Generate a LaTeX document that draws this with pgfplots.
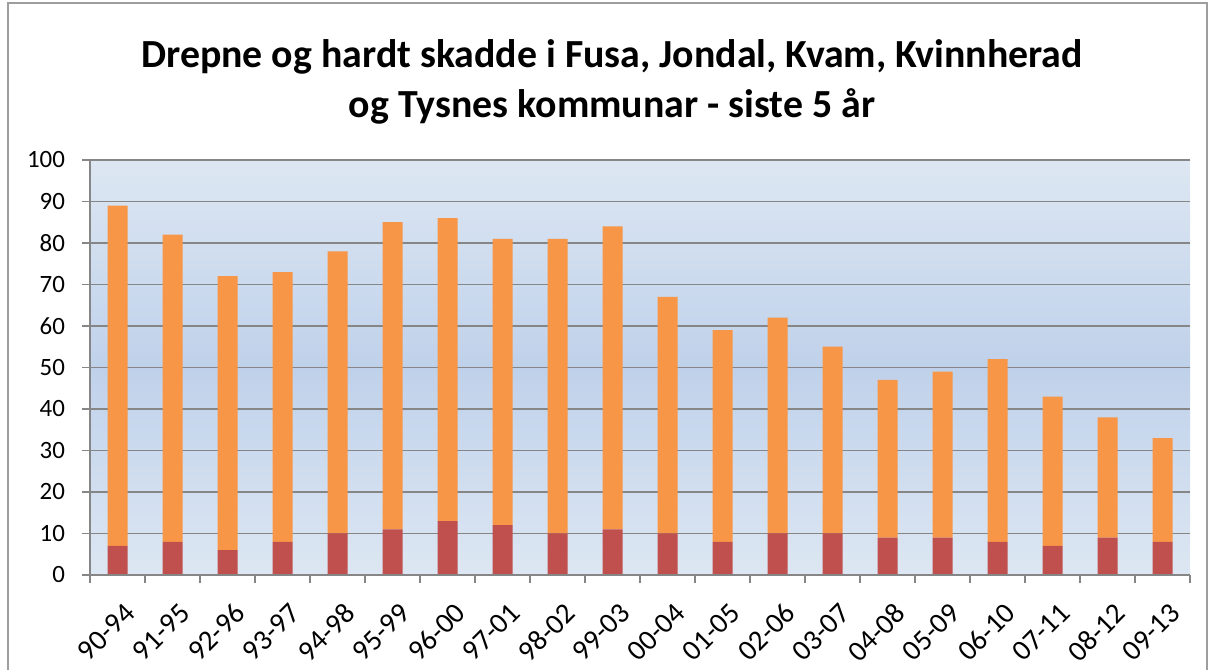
\documentclass[border=0pt]{standalone}
\usepackage{pgfplots}
\pgfplotsset{compat=1.18}
\usepackage{pgfplotstable}
\usepackage{fontspec}
\setmainfont{Carlito}
\definecolor{dead}{HTML}{C0504D}
\definecolor{hurt}{HTML}{F79646}
\definecolor{bgtop}{HTML}{DDE7F3}
\definecolor{bgmid}{HTML}{BFD1EA}
\definecolor{gridc}{HTML}{868686}
\pgfplotstableread{
x lab drepne skadde
0 90-94 7 82
1 91-95 8 74
2 92-96 6 66
3 93-97 8 65
4 94-98 10 68
5 95-99 11 74
6 96-00 13 73
7 97-01 12 69
8 98-02 10 71
9 99-03 11 73
10 00-04 10 57
11 01-05 8 51
12 02-06 10 52
13 03-07 10 45
14 04-08 9 38
15 05-09 9 40
16 06-10 8 44
17 07-11 7 36
18 08-12 9 29
19 09-13 8 25
}\data
\begin{document}
\begin{tikzpicture}
\path[use as bounding box] (0,0) rectangle (607.5bp,335bp);
\draw[gridc!80, line width=0.8bp] (4bp,-5bp) rectangle (603.5bp,333.5bp);
\node[align=center, font=\bfseries\fontsize{20}{25}\selectfont] at (306bp,294bp) {Drepne og hardt skadde i Fusa, Jondal, Kvam, Kvinnherad\\og Tysnes kommunar - siste 5 år};
\shade[top color=bgmid, bottom color=bgtop] (45bp,47.5bp) rectangle (595bp,151.25bp);
\shade[top color=bgtop, bottom color=bgmid] (45bp,151.25bp) rectangle (595bp,255bp);
\begin{axis}[
  at={(45bp,47.5bp)}, anchor=south west,
  scale only axis, width=550bp, height=207.5bp,
  ybar stacked, bar width=10bp,
  xmin=-0.5, xmax=19.5, ymin=0, ymax=100,
  ytick={0,10,...,100},
  xtick=data, xticklabels from table={\data}{lab},
  minor xtick={-0.5,0.5,...,19.5},
  x tick label style={rotate=45, anchor=north east, font=\fontsize{14.5}{16}\selectfont, xshift=-1bp, yshift=-5bp},
  y tick label style={font=\fontsize{12.5}{14}\selectfont, xshift=-5bp},
  /pgf/number format/assume math mode=true,
  tick align=outside,
  major tick length=4bp, minor tick length=4bp,
  x tick style={draw=none},
  minor x tick style={draw=gridc, line width=0.8bp},
  y tick style={draw=gridc, line width=0.8bp},
  ymajorgrids, grid style={draw=gridc, line width=0.8bp},
  axis line style={draw=gridc, line width=0.8bp},
  axis x line*=bottom, axis y line*=left,
  every axis plot/.append style={draw=none},
]
\addplot[fill=dead] table[x=x, y=drepne] {\data};
\addplot[fill=hurt] table[x=x, y=skadde] {\data};
\end{axis}
\draw[gridc, line width=0.8bp] (45bp,47.5bp) -- (595bp,47.5bp);
\end{tikzpicture}
\end{document}
